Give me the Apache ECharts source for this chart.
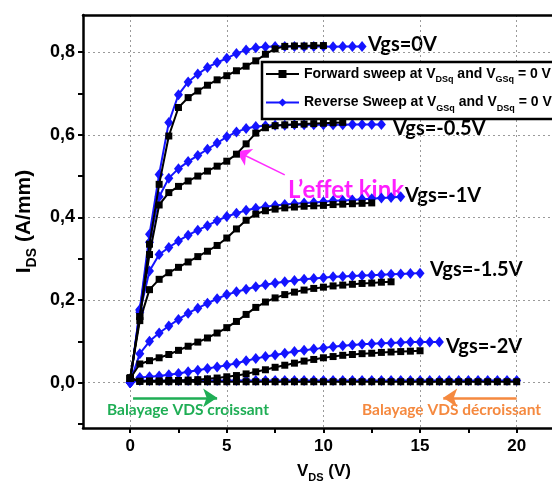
<!DOCTYPE html>
<html><head><meta charset="utf-8">
<script src="https://cdn.jsdelivr.net/npm/echarts@6/dist/echarts.min.js"></script>
<style>html,body{margin:0;padding:0;background:#fff}#c{width:552px;height:482px}</style>
</head><body><div id="c"></div>
<script>
// Drain voltage sweep points (V)
const VDS = [0,0.5,1,1.5,2,2.5,3,3.5,4,4.5,5,5.5,6,6.5,7,7.5,8,8.5,9,9.5,10,10.5,11,11.5,12,12.5,13,13.5,14,14.5,15,15.5,16,16.5,17,17.5,18,18.5,19,19.5,20];

// Forward sweep (black squares), IDS in A/mm
const fwdVgs0   = [0.01,0.16,0.335,0.48,0.597,0.666,0.69,0.706,0.72,0.733,0.743,0.755,0.766,0.779,0.795,0.808,0.814,0.815,0.815,0.816,0.816];
const fwdVgs05  = [0.01,0.16,0.31,0.43,0.46,0.475,0.488,0.5,0.512,0.524,0.536,0.553,0.578,0.604,0.617,0.622,0.624,0.625,0.626,0.627,0.628,0.629,0.63];
const fwdVgs1   = [0.01,0.15,0.225,0.25,0.266,0.279,0.292,0.305,0.318,0.332,0.35,0.372,0.393,0.408,0.416,0.42,0.423,0.425,0.427,0.428,0.429,0.431,0.432,0.433,0.434,0.435];
const fwdVgs15  = [0.01,0.045,0.053,0.06,0.068,0.078,0.088,0.098,0.108,0.12,0.133,0.148,0.165,0.182,0.195,0.205,0.213,0.219,0.224,0.228,0.231,0.234,0.236,0.238,0.24,0.241,0.243,0.244];
const fwdVgs2   = [0.01,0.003,0.004,0.004,0.005,0.005,0.006,0.007,0.009,0.011,0.014,0.017,0.021,0.026,0.031,0.037,0.042,0.047,0.052,0.056,0.06,0.063,0.066,0.068,0.07,0.071,0.073,0.074,0.075,0.076,0.077];
const fwdOff    = [0.012,0.003,0.002,0.002,0.002,0.002,0.002,0.002,0.002,0.002,0.002,0.002,0.002,0.002,0.002,0.002,0.002,0.002,0.002,0.002,0.002,0.002,0.002,0.002,0.002,0.002,0.002,0.002,0.002,0.002,0.002,0.002,0.002,0.002,0.002,0.002,0.002,0.002,0.002,0.002,0.002];

// Reverse sweep (blue diamonds), IDS in A/mm
const revVgs0   = [0,0.177,0.359,0.504,0.63,0.697,0.728,0.747,0.763,0.775,0.785,0.797,0.805,0.811,0.813,0.814,0.814,0.814,0.813,0.814,0.814,0.813,0.814,0.814,0.814];
const revVgs05  = [0,0.175,0.34,0.45,0.495,0.518,0.535,0.55,0.565,0.58,0.595,0.607,0.615,0.62,0.622,0.623,0.623,0.624,0.624,0.624,0.624,0.624,0.624,0.625,0.625,0.625,0.625];
const revVgs1   = [0,0.17,0.27,0.31,0.327,0.343,0.357,0.369,0.38,0.392,0.402,0.41,0.417,0.422,0.426,0.429,0.431,0.433,0.435,0.436,0.438,0.44,0.441,0.442,0.444,0.445,0.447,0.448,0.45];
const revVgs15  = [0,0.07,0.1,0.12,0.137,0.153,0.168,0.18,0.192,0.203,0.213,0.22,0.226,0.232,0.237,0.241,0.244,0.247,0.25,0.252,0.254,0.256,0.257,0.258,0.259,0.26,0.261,0.262,0.263,0.264,0.265];
const revVgs2   = [0,0.012,0.014,0.016,0.019,0.022,0.026,0.03,0.034,0.038,0.042,0.047,0.053,0.058,0.063,0.067,0.071,0.075,0.078,0.081,0.084,0.087,0.089,0.091,0.093,0.094,0.095,0.096,0.097,0.098,0.098,0.098,0.098];
const revOff    = [0,0.005,0.005,0.005,0.005,0.005,0.005,0.005,0.005,0.005,0.005,0.005,0.005,0.005,0.005,0.005,0.005,0.005,0.005,0.005,0.005,0.005,0.005,0.005,0.005,0.005,0.005,0.005,0.005,0.005,0.005,0.005,0.005,0.005,0.005,0.005,0.005,0.005,0.005,0.005,0.005];

// Axis ticks / labels
const xMin = -2.44, xMax = 22.5, yMin = -0.11, yMax = 0.89;
const xLabelValues = [0,5,10,15,20];
const xTickValues  = [0,2.5,5,7.5,10,12.5,15,17.5,20];
const yLabelValues = [0,0.2,0.4,0.6,0.8];
const yTickValues  = [-0.1,0,0.1,0.2,0.3,0.4,0.5,0.6,0.7,0.8];
const gridX = [0,5,10,15,20];
const gridY = [0,0.2,0.4,0.6,0.8];

const fwdCurves = [fwdVgs0,fwdVgs05,fwdVgs1,fwdVgs15,fwdVgs2,fwdOff];
const revCurves = [revVgs0,revVgs05,revVgs1,revVgs15,revVgs2,revOff];

const BLUE = '#1414ff';
const pairs = vals => vals.map((v,i)=>[VDS[i], v]);
const FONT = '"Liberation Sans", Arial, sans-serif';
const CAL = 'Lato, "Open Sans", sans-serif';
const GRID_COLOR = '#9a9a9a';

const series = [];
revCurves.forEach(c=>series.push({
  name:'rev', type:'line', data:pairs(c), symbol:'diamond', symbolSize:[9,11],
  lineStyle:{color:BLUE,width:2}, itemStyle:{color:BLUE}, z:4
}));
fwdCurves.forEach(c=>series.push({
  name:'fwd', type:'line', data:pairs(c), symbol:'rect', symbolSize:7,
  lineStyle:{color:'#000',width:2}, itemStyle:{color:'#000'}, z:5
}));
// arrows
function arrow(from,to,color,w){
  return { type:'line', data:[], silent:true, z:6,
    markLine:{ silent:true, symbol:['none','arrow'], symbolSize:[14,14], label:{show:false}, animation:false,
      lineStyle:{color:color,width:w,type:'solid'},
      data:[[{coord:from},{coord:to}]] } };
}
series.push(arrow([0.15,-0.037],[4.5,-0.037],'#1fae55',2.5));
series.push(arrow([20,-0.037],[16.2,-0.037],'#f5893f',2.5));
series.push(arrow([8.0,0.503],[5.5,0.56],'#ff2bff',1.5));

// hidden axes that only carry the dotted grid lines
const hiddenAxisBase = {
  type:'value', axisLine:{show:false, onZero:false}, axisLabel:{show:false},
  splitLine:{show:true, lineStyle:{color:GRID_COLOR, width:1, type:[2,3]}}
};

const chart = echarts.init(document.getElementById('c'));
chart.setOption({
  animation:false,
  backgroundColor:'#fff',
  grid:{left:83, top:15, width:482, height:413, outerBoundsMode:'none', containLabel:false, show:false},
  xAxis:[{
    type:'value', min:xMin, max:xMax, z:3,
    axisLine:{onZero:false, lineStyle:{color:'#000',width:2.5}},
    axisTick:{show:true, customValues:xTickValues, length:5, lineStyle:{width:2,color:'#000'}},
    axisLabel:{customValues:xLabelValues, color:'#000', fontWeight:'bold', fontSize:17, fontFamily:FONT, margin:10},
    splitLine:{show:false},
    name:'{t|V}{s|DS}{t| (V)}', nameLocation:'middle', nameGap:31,
    nameTextStyle:{rich:{t:{fontSize:17,fontWeight:'bold',fontFamily:FONT,color:'#000',lineHeight:18},
      s:{fontSize:11,fontWeight:'bold',fontFamily:FONT,color:'#000',lineHeight:24,verticalAlign:'bottom'}}}
  },{
    type:'value', position:'top', min:xMin, max:xMax, z:3,
    axisLine:{show:true, onZero:false, lineStyle:{color:'#000',width:2.5}},
    axisTick:{show:false}, axisLabel:{show:false}, splitLine:{show:false}
  }, Object.assign({}, hiddenAxisBase, {
    position:'bottom', offset:0, min:xMin, max:xMax,
    axisTick:{show:false, customValues:gridX}
  })],
  yAxis:[{
    type:'value', min:yMin, max:yMax, z:3,
    axisLine:{show:true, onZero:false, lineStyle:{color:'#000',width:2.5}},
    axisTick:{show:true, customValues:yTickValues, length:5, lineStyle:{width:2,color:'#000'}},
    axisLabel:{customValues:yLabelValues, color:'#000', fontWeight:'bold', fontSize:18, fontFamily:FONT, margin:8,
      formatter:v=>v.toFixed(1).replace('.',',')},
    splitLine:{show:false},
    name:'{t|I}{s|DS}{t| (A/mm)}', nameLocation:'middle', nameGap:35, nameRotate:90,
    nameTextStyle:{rich:{t:{fontSize:21,fontWeight:'bold',fontFamily:FONT,color:'#000',lineHeight:22},
      s:{fontSize:14,fontWeight:'bold',fontFamily:FONT,color:'#000',lineHeight:30,verticalAlign:'bottom'}}}
  }, Object.assign({}, hiddenAxisBase, {
    position:'right', min:yMin, max:yMax,
    axisTick:{show:false, customValues:gridY}
  })],
  legend:{
    data:['fwd','rev'], orient:'vertical', left:262, top:62, z:10,
    padding:[5,4,6,3], itemGap:11, itemWidth:33, itemHeight:10,
    borderColor:'#000', borderWidth:2.5, backgroundColor:'#fff',
    formatter:n=> n==='fwd'
      ? '{t|Forward sweep at V}{s|DSq}{t| and V}{s|GSq}{t| = 0 V}'
      : '{t|Reverse Sweep at V}{s|GSq}{t| and V}{s|DSq}{t| = 0 V}',
    textStyle:{rich:{t:{fontSize:14,fontWeight:'bold',fontFamily:FONT,color:'#000',lineHeight:16},
      s:{fontSize:9,fontWeight:'bold',fontFamily:FONT,color:'#000',lineHeight:21,verticalAlign:'bottom'}}}
  },
  graphic:[
    {type:'text', x:368, y:45, style:{text:'Vgs=0V', font:'bold 20px '+CAL, fill:'#000', verticalAlign:'middle'}},
    {type:'text', x:393, y:129, style:{text:'Vgs=-0.5V', font:'bold 20px '+CAL, fill:'#000', verticalAlign:'middle'}},
    {type:'text', x:405, y:196, style:{text:'Vgs=-1V', font:'bold 20px '+CAL, fill:'#000', verticalAlign:'middle'}},
    {type:'text', x:430, y:270, style:{text:'Vgs=-1.5V', font:'bold 20px '+CAL, fill:'#000', verticalAlign:'middle'}},
    {type:'text', x:446, y:347, style:{text:'Vgs=-2V', font:'bold 20px '+CAL, fill:'#000', verticalAlign:'middle'}},
    {type:'text', x:288, y:190, style:{text:'L\u2019effet kink', font:'bold 24px '+CAL, fill:'#ff1eff', verticalAlign:'middle'}},
    {type:'text', x:107, y:410, style:{text:'Balayage VDS croissant', font:'bold 15.5px '+CAL, fill:'#1fae55', verticalAlign:'middle'}},
    {type:'text', x:362, y:410, style:{text:'Balayage VDS d\u00e9croissant', font:'bold 15.5px '+CAL, fill:'#f5893f', verticalAlign:'middle'}}
  ],
  series: series
});
</script>
</body></html>
